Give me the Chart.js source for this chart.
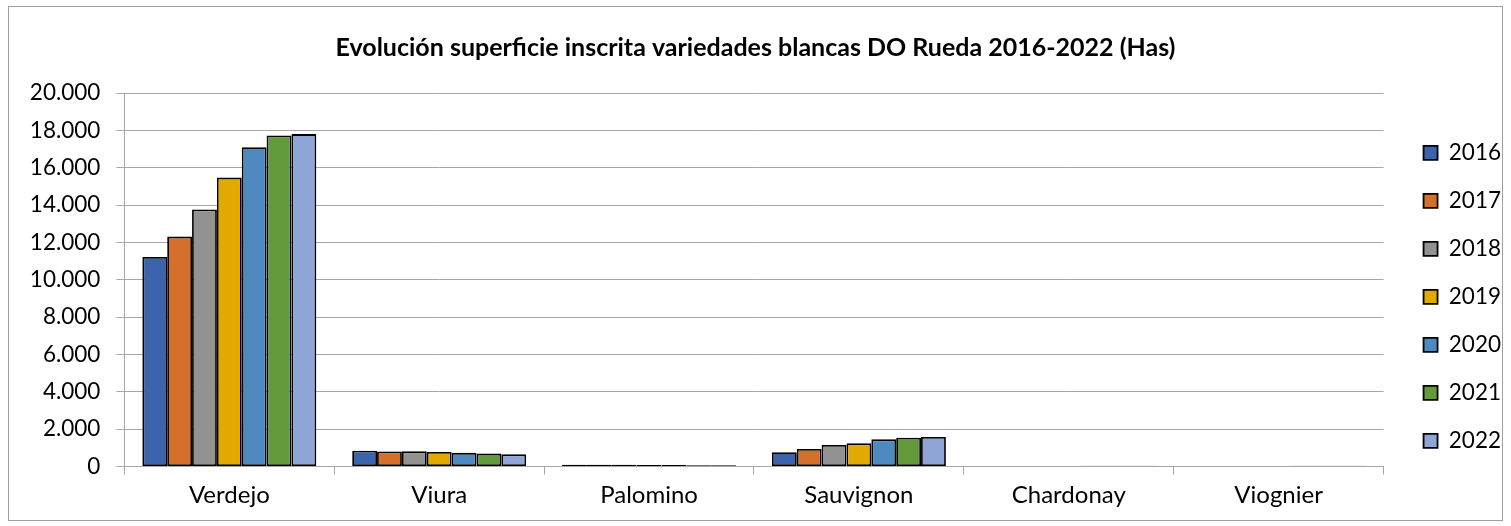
<!DOCTYPE html>
<html><head><meta charset="utf-8">
<script src="https://cdn.jsdelivr.net/npm/chart.js@4.4.1/dist/chart.umd.min.js"></script>
<style>html,body{margin:0;padding:0;background:#fff;overflow:hidden}</style>
</head><body>
<canvas id="c" width="1511" height="526"></canvas>
<script>
const categories = ['Verdejo', 'Viura', 'Palomino', 'Sauvignon', 'Chardonay', 'Viognier'];
const years = ['2016', '2017', '2018', '2019', '2020', '2021', '2022'];
const v2016 = [11220, 850, 100, 760, null, null];
const v2017 = [12310, 800, 90, 935, null, null];
const v2018 = [13760, 810, 90, 1150, null, null];
const v2019 = [15470, 780, 85, 1240, null, null];
const v2020 = [17100, 730, 75, 1455, 40, 40];
const v2021 = [17730, 690, 70, 1545, 35, 35];
const v2022 = [17800, 650, 70, 1580, 35, 35];
const yTickValues = [0, 2000, 4000, 6000, 8000, 10000, 12000, 14000, 16000, 18000, 20000];
const titleText = 'Evolución superficie inscrita variedades blancas DO Rueda 2016-2022 (Has)';

const seriesValues = [v2016, v2017, v2018, v2019, v2020, v2021, v2022];
const colors = ['#3c64ad', '#d5702c', '#929292', '#e2aa00', '#4e8abf', '#629a3c', '#8fa5d6'];
const FONT = 'Lato';

const frame = {
  id: 'frame',
  beforeDraw(chart) {
    const ctx = chart.ctx;
    ctx.save();
    ctx.fillStyle = '#fff';
    ctx.fillRect(0, 0, chart.width, chart.height);
    ctx.strokeStyle = '#a0a0a0';
    ctx.lineWidth = 1;
    ctx.strokeRect(8.5, 6.5, 1494, 514);
    ctx.restore();
  }
};

new Chart(document.getElementById('c'), {
  type: 'bar',
  data: {
    labels: categories,
    datasets: years.map((y, i) => ({
      label: y,
      data: seriesValues[i],
      backgroundColor: colors[i],
      borderColor: '#000',
      borderWidth: 1.8,
      borderSkipped: false,
      barPercentage: 1,
      categoryPercentage: 0.829
    }))
  },
  options: {
    responsive: false,
    animation: false,
    devicePixelRatio: 1,
    layout: { padding: { top: 25, bottom: 10.1, left: 0, right: 0 } },
    plugins: {
      title: {
        display: true,
        text: titleText,
        color: '#000',
        font: { family: FONT, size: 25, weight: 'bold' },
        padding: { top: 8, bottom: 30 }
      },
      legend: {
        position: 'right',
        align: 'start',
        title: { display: true, text: ' ', font: { size: 1 }, padding: { top: 90, bottom: 0 } },
        labels: {
          color: '#000',
          font: { family: FONT, size: 22.5 },
          boxWidth: 14,
          boxHeight: 14,
          padding: 25.5
        }
      },
      tooltip: { enabled: false }
    },
    scales: {
      x: {
        grid: { drawOnChartArea: false, color: '#a6a6a6', tickLength: 8, offset: true },
        border: { color: '#a6a6a6' },
        ticks: { color: '#000', font: { family: FONT, size: 24 }, padding: 6.3 }
      },
      y: {
        min: 0,
        max: 20000,
        afterBuildTicks(scale) { scale.ticks = yTickValues.map(v => ({ value: v })); },
        afterFit(s) { s.width = 124.4; },
        grid: { color: '#a6a6a6', tickLength: 8 },
        border: { color: '#a6a6a6' },
        ticks: {
          color: '#000',
          font: { family: FONT, size: 22.5 },
          padding: 16,
          callback: v => String(v).replace(/\B(?=(\d{3})+(?!\d))/g, '.')
        }
      },
      yR: {
        position: 'right',
        display: true,
        grid: { display: false },
        border: { display: false },
        ticks: { display: false },
        afterFit(s) { s.width = 14.5; }
      }
    }
  },
  plugins: [frame]
});
</script>
</body></html>
